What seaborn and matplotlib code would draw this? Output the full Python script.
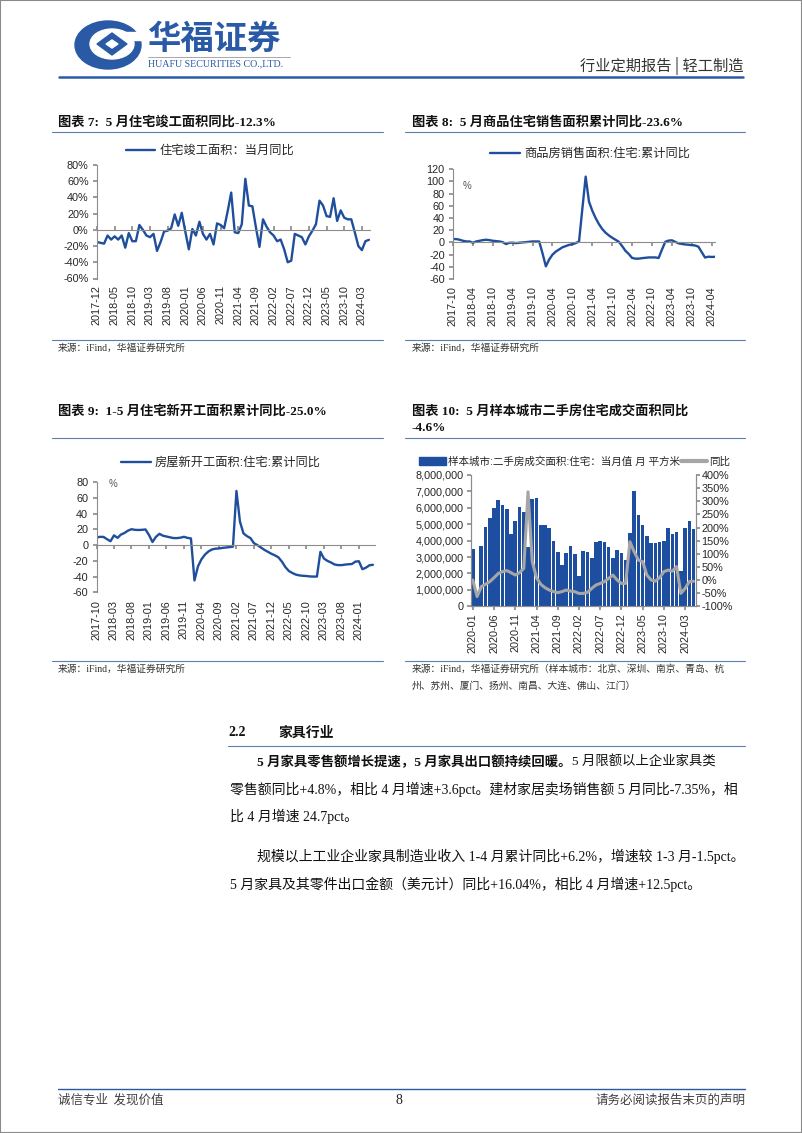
import numpy as np
import pandas as pd
import matplotlib
matplotlib.use("Agg")
import matplotlib.pyplot as plt
import seaborn as sns
from matplotlib.lines import Line2D
from matplotlib.patches import Ellipse, Patch, Rectangle, Polygon
from matplotlib.ticker import FuncFormatter, MultipleLocator

# ---------------- data ----------------
months7 = [d.strftime("%Y-%m") for d in pd.date_range("2017-12-01", "2024-05-01", freq="MS")]
completion_yoy = [-15, -16, -17, -7, -12, -8, -12, -7, -22, -4,
                  -14, -14, 6, 0, -7, -9, -5, -26, -15, -2,
                  -1, 2, 19, 5, 21, -2, -24, 1, -7, 10,
                  -5, -12, -5, -18, 8, 6, 2, 23, 46, -3,
                  -4, 7, 63, 30, 29, 3, -21, 13, 4, -3,
                  -7, -14, -12, -24, -40, -38, -5, -7, -9, -18,
                  -8, -1, 7, 36, 30, 17, 16, 39, 11, 24,
                  15, 13, 13, -3, -20, -25, -14, -12.3]

months8 = [d.strftime("%Y-%m") for d in pd.date_range("2017-10-01", "2024-05-01", freq="MS")]
sales_cum_yoy = [5.5, 5.5, 4.4, 2.7, 1.6, 1.6, -0.5, 1.6, 2.7, 3.8,
                 4.4, 3.8, 2.7, 2.2, 1.6, 0.5, -2.7, -0.5, -0.5, -1.1,
                 -0.5, 0.0, 0.5, 1.1, 1.6, 1.6, 1.5, -18, -39.2, -28,
                 -20, -15, -11.5, -8, -6, -4, -3, -1, 1.5, 55,
                 108, 67, 52, 40, 30, 22, 16, 11.5, 7.7, 4.4,
                 1.1, -6, -13.8, -19, -25.4, -26.6, -26.6, -25.8, -25.2, -24.6,
                 -24.6, -24.6, -25.5, -12, 1.0, 3.0, 3.5, 1.0, -1.5, -2.5,
                 -3.3, -3.8, -4.4, -5.0, -7.0, -16, -24.8, -23.4, -23.8, -23.6]

months9 = months8
starts_cum_yoy = [9.7, 10.6, 10.5, 7.6, 5.0, 12.5, 9.3, 13.5, 15.5, 18.5,
                  20.3, 19.5, 19.3, 19.5, 20.0, 13.0, 4.0, 10.6, 14.4, 12.0,
                  11.0, 10.0, 9.0, 9.0, 9.5, 10.6, 9.3, 8.5, -44.9, -27.0,
                  -18.0, -12.0, -8.0, -5.5, -4.5, -4.2, -3.5, -3.0, -2.5, -1.9,
                  69.0, 30.0, 15.0, 11.5, 9.0, 2.5, 0.0, -3.0, -6.0, -8.5,
                  -11.0, -13.0, -15.5, -21.0, -28.0, -33.0, -35.5, -37.5, -38.5, -39.0,
                  -39.3, -39.8, -40.0, -40.0, -8.5, -17.0, -20.0, -22.0, -24.5, -25.4,
                  -25.4, -24.8, -24.3, -24.0, -20.9, -20.5, -30.6, -28.7, -25.6, -25.0]

months10 = [d.strftime("%Y-%m") for d in pd.date_range("2020-01-01", "2024-05-01", freq="MS")]
second_hand_area = [3.5, 0.83, 3.7, 4.85, 5.35, 6.0, 6.5, 6.15, 5.95, 4.4,
                    5.2, 6.05, 5.75, 3.6, 6.55, 6.6, 4.95, 4.95, 4.8, 4.0,
                    3.3, 2.5, 3.25, 3.7, 3.2, 1.85, 3.35, 3.3, 2.95, 3.9,
                    4.0, 3.9, 3.6, 2.95, 3.45, 3.25, 2.85, 4.45, 7.05, 5.55,
                    4.95, 4.3, 3.85, 3.85, 3.9, 3.95, 4.8, 4.4, 4.5, 2.15,
                    4.75, 5.2, 4.7]  # million m2
second_hand_yoy = [0, -63, -25, -16, -6, 9, 25, 32, 36, 28,
                   19, 28, 44, 336, 70, 9, -16, -29, -38, -44,
                   -48, -44, -38, -42, -44, -51, -51, -47, -32, -19,
                   -13, -6, 6, 19, 0, -13, -13, 146, 108, 76,
                   70, 19, 0, -4, 9, 32, 38, 34, 51, -51,
                   -32, -6, -4.6]

# ---------------- style ----------------
W, H = 802, 1133
sns.set_theme(style="white")
plt.rcParams["font.family"] = ["Liberation Sans", "Noto Sans CJK SC"]
plt.rcParams["axes.unicode_minus"] = False

BLUE = "#1f4f9c"
BAR = "#1d4e9f"
GRAY = "#a6a6a6"
AXC = "#8c8c8c"
TXT = "#262626"
RULE = "#5a7fae"
HEAD_BLUE = "#2a5aa6"
SERIF = ["Liberation Serif", "Noto Sans CJK SC"]
CJK = ["Noto Sans CJK SC", "DejaVu Sans"]

fig = plt.figure(figsize=(W / 100, H / 100), dpi=100)
fig.patch.set_facecolor("white")


def fx(x):
    return x / W


def fy(y):
    return 1 - y / H


def add_ax(l, t, r, b):
    return fig.add_axes([fx(l), fy(b), (r - l) / W, (b - t) / H])


def hline(x0, x1, y, color=RULE, lw=0.8):
    fig.add_artist(Line2D([fx(x0), fx(x1)], [fy(y), fy(y)], transform=fig.transFigure,
                          color=color, lw=lw))


def ftext(x, y, s, **kw):
    kw.setdefault("va", "center")
    kw.setdefault("ha", "left")
    return fig.text(fx(x), fy(y), s, **kw)


def line_panel(rect, values, labels, ylim, xmax, fmt, tick_up, legend_label, legend_xy,
               step=5, pct_mark=None, pad=4.5):
    ax = add_ax(*rect)
    df = pd.DataFrame({"x": np.arange(len(values)), "y": values})
    sns.lineplot(data=df, x="x", y="y", ax=ax, color=BLUE, lw=1.7, label=legend_label)
    ax.set_xlim(0, xmax)
    ax.set_ylim(*ylim)
    ax.set_xlabel("")
    ax.set_ylabel("")
    ax.yaxis.set_major_locator(MultipleLocator(20))
    ax.yaxis.set_major_formatter(FuncFormatter(fmt))
    for s in ["top", "right"]:
        ax.spines[s].set_visible(False)
    ax.spines["left"].set_color(AXC)
    ax.spines["left"].set_linewidth(0.8)
    ax.spines["bottom"].set_position(("data", 0))
    ax.spines["bottom"].set_color(AXC)
    ax.spines["bottom"].set_linewidth(0.8)
    ticks = list(range(0, len(values), step))
    ax.set_xticks(ticks)
    ax.tick_params(axis="x", bottom=True, direction="in" if tick_up else "out", length=3,
                   color=AXC, labelbottom=False)
    ax.tick_params(axis="y", left=True, direction="out", length=3, color=AXC,
                   labelsize=7.8, labelcolor=TXT, pad=3)
    sec = ax.secondary_xaxis("bottom")
    sec.set_xticks(ticks)
    sec.set_xticklabels([labels[i] for i in ticks], rotation=90)
    sec.tick_params(length=0, pad=pad, labelsize=7.8, labelcolor=TXT)
    sec.spines["bottom"].set_visible(False)
    h, l = ax.get_legend_handles_labels()
    ax.legend(h, l, loc="center", bbox_to_anchor=(fx(legend_xy[0]), fy(legend_xy[1])),
              bbox_transform=fig.transFigure, frameon=False, fontsize=8.8,
              handlelength=2.4, handletextpad=0.35, borderpad=0, borderaxespad=0)
    if pct_mark is not None:
        ax.text(pct_mark[0], pct_mark[1], "%", transform=ax.transAxes, fontsize=7,
                color="#555555", ha="left", va="center")
    return ax


# ---------------- header ----------------
fig.add_artist(Rectangle((0, 0), 1, 1, transform=fig.transFigure, fill=False,
                         ec="#8a8a8a", lw=1.5))
fig.add_artist(Ellipse((fx(108), fy(45)), 66 / W, 48 / H, transform=fig.transFigure,
                       color=HEAD_BLUE))
fig.add_artist(Ellipse((fx(112), fy(44)), 44 / W, 30 / H, transform=fig.transFigure,
                       color="white"))
fig.add_artist(Polygon([[fx(112), fy(33)], [fx(127), fy(44)], [fx(112), fy(55)], [fx(97), fy(44)]],
                       closed=True, transform=fig.transFigure, color=HEAD_BLUE))
fig.add_artist(Polygon([[fx(112), fy(40)], [fx(118), fy(44)], [fx(112), fy(48)], [fx(106), fy(44)]],
                       closed=True, transform=fig.transFigure, color="white"))
fig.add_artist(Rectangle((fx(125), fy(40)), 18 / W, 8 / H, transform=fig.transFigure,
                         color="white"))
ftext(147, 39, "华福证券", fontsize=24, color=HEAD_BLUE, fontweight="bold", family=CJK)
hline(148, 290, 57, color="#9a9a9a", lw=0.6)
ftext(148, 64, "HUAFU SECURITIES CO.,LTD.", fontsize=7.2, color=HEAD_BLUE,
      family=["Liberation Serif"])
ftext(743, 66, "行业定期报告 | 轻工制造", ha="right", fontsize=11, color="#333333",
      family=CJK)
hline(59, 743, 77, color=HEAD_BLUE, lw=1.8)

# ---------------- titles & rules ----------------
tkw = dict(fontsize=9.5, fontweight="bold", family=SERIF, color="#111111")
ftext(58, 122, "图表 7:  5 月住宅竣工面积同比-12.3%", **tkw)
ftext(412, 122, "图表 8:  5 月商品住宅销售面积累计同比-23.6%", **tkw)
ftext(58, 411, "图表 9:  1-5 月住宅新开工面积累计同比-25.0%", **tkw)
ftext(412, 411, "图表 10:  5 月样本城市二手房住宅成交面积同比", **tkw)
ftext(412, 428, "-4.6%", **tkw)
for y in (131.5, 340):
    hline(52, 383, y)
    hline(405, 745, y)
for y in (437.5, 661):
    hline(52, 383, y)
    hline(405, 745, y)
skw = dict(fontsize=7, family=SERIF, color="#333333")
ftext(58, 348, "来源：iFind，华福证券研究所", **skw)
ftext(412, 348, "来源：iFind，华福证券研究所", **skw)
ftext(58, 669, "来源：iFind，华福证券研究所", **skw)
ftext(412, 669, "来源：iFind，华福证券研究所（样本城市：北京、深圳、南京、青岛、杭", **skw)
ftext(412, 686, "州、苏州、厦门、扬州、南昌、大连、佛山、江门）", **skw)

# ---------------- charts 7-9 ----------------
pct = lambda v, p: f"{v:.0f}%"
num = lambda v, p: f"{v:.0f}"
line_panel((97, 165, 370, 278.5), completion_yoy, months7, (-60, 80), 77.3, pct, True,
           "住宅竣工面积：当月同比", (210, 151), step=5, pad=4.7)
line_panel((453, 169.3, 715, 279), sales_cum_yoy, months8, (-60, 120), 79, num, False,
           "商品房销售面积:住宅:累计同比", (590, 154), step=6, pct_mark=(0.035, 0.85), pad=5)
line_panel((96.5, 482.3, 375, 592.3), starts_cum_yoy, months9, (-60, 80), 79.6, num, False,
           "房屋新开工面积:住宅:累计同比", (221, 463), step=5, pct_mark=(0.045, 0.985), pad=5.5)

# ---------------- chart 10 ----------------
ax = add_ax(470.7, 475, 695.7, 606.3)
df10 = pd.DataFrame({"month": months10, "area": np.array(second_hand_area) * 1e6,
                     "idx": np.arange(len(months10)), "yoy": second_hand_yoy})
sns.barplot(data=df10, x="month", y="area", ax=ax, color=BAR, width=0.86, saturation=1,
            edgecolor="none", linewidth=0)
ax.set_ylim(0, 8e6)
ax.set_xlim(-0.5, len(months10) - 0.5)
ax.yaxis.set_major_locator(MultipleLocator(1e6))
ax.yaxis.set_major_formatter(FuncFormatter(lambda v, p: f"{v:,.0f}"))
ax.set_xlabel("")
ax.set_ylabel("")
t10 = list(range(0, len(months10), 5))
ax.set_xticks(t10)
ax.set_xticklabels([months10[i] for i in t10], rotation=90)
ax.tick_params(axis="x", bottom=True, direction="out", length=3, color=AXC,
               labelsize=7.8, labelcolor=TXT, pad=2)
ax.tick_params(axis="y", left=True, direction="out", length=3, color=AXC,
               labelsize=7.8, labelcolor=TXT, pad=2)
ax2 = ax.twinx()
sns.lineplot(data=df10, x="idx", y="yoy", ax=ax2, color=GRAY, lw=2.2)
ax2.set_ylim(-100, 400)
ax2.set_xlim(-0.5, len(months10) - 0.5)
ax2.yaxis.set_major_locator(MultipleLocator(50))
ax2.yaxis.set_major_formatter(FuncFormatter(pct))
ax2.set_ylabel("")
ax2.set_xlabel("")
ax2.tick_params(axis="y", right=True, direction="out", length=3, color=AXC,
                labelsize=7.8, labelcolor=TXT, pad=1)
for a in (ax, ax2):
    a.spines["top"].set_visible(False)
    for s in ("left", "right", "bottom"):
        a.spines[s].set_color(AXC)
        a.spines[s].set_linewidth(0.8)
handles = [Patch(facecolor=BAR, edgecolor=BAR),
           Line2D([], [], color=GRAY, lw=3)]
ax2.legend(handles, ["样本城市:二手房成交面积:住宅：当月值 月 平方米", "同比"], loc="center",
           bbox_to_anchor=(fx(575), fy(461.5)), bbox_transform=fig.transFigure,
           frameon=False, fontsize=7.6, ncol=2, handlelength=2.5, handletextpad=0.2,
           columnspacing=0.1, borderpad=0, borderaxespad=0)

# ---------------- body text ----------------
ftext(228, 733, "2.2", fontsize=10, fontweight="bold", family=SERIF, color="#111111")
ftext(278, 733, "家具行业", fontsize=10, fontweight="bold", family=SERIF, color="#111111")
hline(228, 745, 746, color=RULE, lw=0.8)

bkw = dict(family=SERIF, color="#111111")
renderer = fig.canvas.get_renderer()
b1 = ftext(257, 762, "5 月家具零售额增长提速，5 月家具出口额持续回暖。", fontweight="bold",
           fontsize=9.6, **bkw)
ext = b1.get_window_extent(renderer=renderer)
fig.text(ext.x1 / W, fy(762), "5 月限额以上企业家具类", va="center", ha="left",
         fontsize=9.6, **bkw)
ftext(230, 789, "零售额同比+4.8%，相比 4 月增速+3.6pct。建材家居卖场销售额 5 月同比-7.35%，相",
      fontsize=10, **bkw)
ftext(230, 816, "比 4 月增速 24.7pct。", fontsize=10, **bkw)
ftext(257, 856, "规模以上工业企业家具制造业收入 1-4 月累计同比+6.2%，增速较 1-3 月-1.5pct。",
      fontsize=10, **bkw)
ftext(230, 884, "5 月家具及其零件出口金额（美元计）同比+16.04%，相比 4 月增速+12.5pct。",
      fontsize=10, **bkw)

# ---------------- footer ----------------
hline(58, 745, 1089, color=HEAD_BLUE, lw=1.0)
ftext(58, 1100, "诚信专业  发现价值", fontsize=9, color="#404040", family=CJK)
ftext(399, 1100, "8", fontsize=10, ha="center", color="#222222", family=["Liberation Serif"])
ftext(745, 1100, "请务必阅读报告末页的声明", fontsize=9, ha="right", color="#404040", family=CJK)

fig.savefig("out.png", dpi=100, facecolor="white")
